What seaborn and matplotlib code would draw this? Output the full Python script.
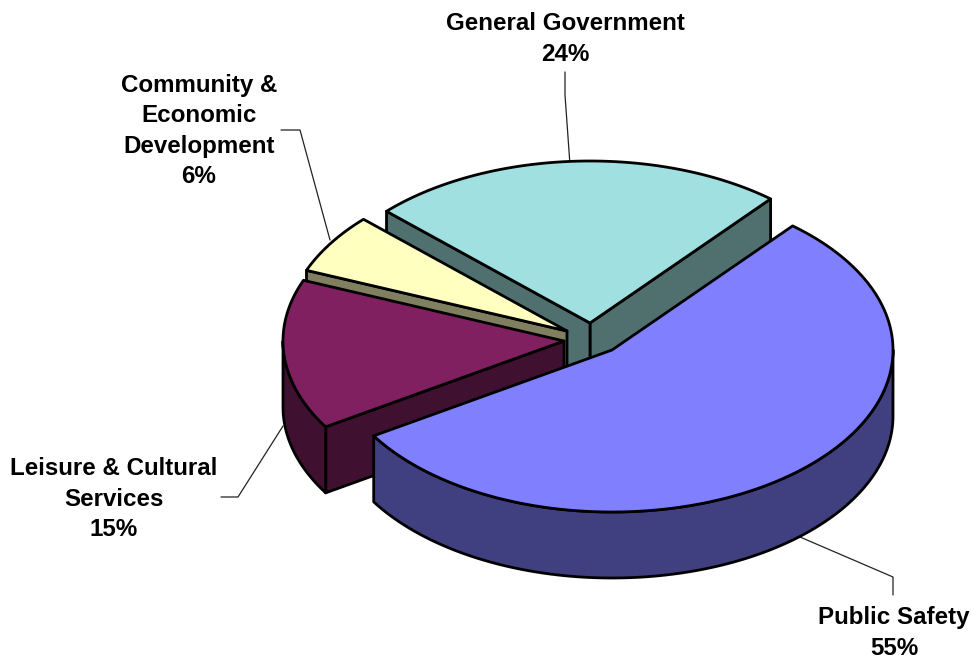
import numpy as np
import matplotlib
matplotlib.use("Agg")
import matplotlib.pyplot as plt
import seaborn as sns

# Budget shares, listed counter-clockwise from the first slice edge
categories = ["General Government", "Community &\nEconomic\nDevelopment",
              "Leisure & Cultural\nServices", "Public Safety"]
shares = [24, 6, 15, 55]

top_colors = ["#A0E0E0", "#FFFFC0", "#802060", "#8080FF"]
side_colors = ["#507070", "#808060", "#401030", "#404080"]

# Layout of the exploded slices, in pixel coordinates
apex_x = [590, 567, 564, 612]
apex_y = [323, 331, 341, 350]
label_x = [565, 199, 114, 894]
label_y = [39, 131, 499, 633]
leader_x = [[570, 565, 565], [330, 300, 281], [283, 238, 221], [800, 893, 893]]
leader_y = [[165, 95, 72], [240, 130, 130], [426, 497, 497], [537, 577, 595]]

RX, RY, DEPTH = 281, 162, 66
START_ANGLE = 50
EDGE = dict(edgecolor="black", linewidth=2.0, joinstyle="round")


def rim_point(cx, cy, deg):
    t = np.radians(deg)
    return cx + RX * np.cos(t), cy - RY * np.sin(t)


def arc(cx, cy, a0, a1):
    t = np.radians(np.linspace(a0, a1, 160))
    return cx + RX * np.cos(t), cy - RY * np.sin(t)


def radial_wall(ax, cx, cy, deg, color):
    x, y = rim_point(cx, cy, deg)
    ax.fill([cx, x, x, cx], [cy, y, y + DEPTH, cy + DEPTH], facecolor=color, **EDGE)


sns.set_theme(style="white")
fig, ax = plt.subplots(figsize=(9.71, 6.62), dpi=100)
ax.set_position([0, 0, 1, 1])
ax.set_xlim(0, 971)
ax.set_ylim(662, 0)
ax.axis("off")

# Leader lines sit beneath the slices
for lx, ly in zip(leader_x, leader_y):
    ax.plot(lx, ly, color="#222222", linewidth=0.9, zorder=0.5)

# Slices are painted back to front so nearer ones cover the walls behind
edges = START_ANGLE + np.cumsum([0] + [s * 3.6 for s in shares])
for i, share in enumerate(shares):
    a0, a1 = edges[i], edges[i + 1]
    cx, cy = apex_x[i], apex_y[i]

    # Radial walls that face the viewer
    if np.cos(np.radians(a0)) > 0:
        radial_wall(ax, cx, cy, a0, side_colors[i])
    if np.cos(np.radians(a1)) < 0:
        radial_wall(ax, cx, cy, a1, side_colors[i])

    # Curved outer wall along the front half of the ellipse
    lo, hi = max(a0, 180), min(a1, 360)
    if lo < hi:
        xs, ys = arc(cx, cy, lo, hi)
        ax.fill(np.r_[xs, xs[::-1]], np.r_[ys, ys[::-1] + DEPTH],
                facecolor=side_colors[i], **EDGE)

    # Top face
    xs, ys = arc(cx, cy, a0, a1)
    ax.fill(np.r_[cx, xs], np.r_[cy, ys], facecolor=top_colors[i], **EDGE)

for name, share, x, y in zip(categories, shares, label_x, label_y):
    ax.text(x, y, f"{name}\n{share}%", ha="center", va="center", multialignment="center",
            family="Liberation Sans", fontweight="bold", fontsize=17.4,
            linespacing=1.41, color="black")

sns.despine(ax=ax, left=True, bottom=True)
fig.savefig("out.png", dpi=100, facecolor="white")
